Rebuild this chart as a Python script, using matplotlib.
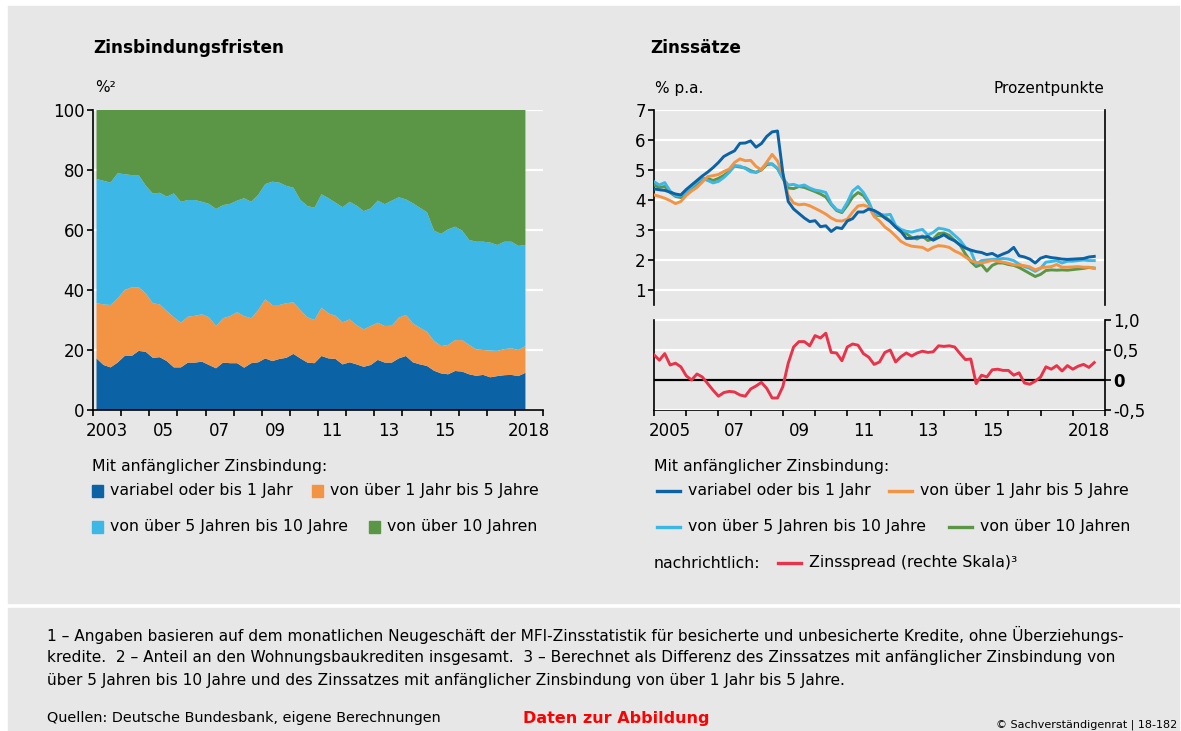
import numpy as np
import pandas as pd
import matplotlib
matplotlib.use("Agg")
import matplotlib.pyplot as plt
from matplotlib.patches import Rectangle
from matplotlib.lines import Line2D

plt.rcParams['font.family'] = ['DejaVu Sans']

W, H = 1181, 731
BG = '#e7e7e7'
C_VAR = '#0b62a4'
C_1_5 = '#f39445'
C_5_10 = '#3cb7e6'
C_10 = '#5b9647'
C_SPREAD = '#e8334a'

# Zinsbindungsfristen: Anteil an den Wohnungsbaukrediten, quartalsweise, in %
quarters = pd.period_range('2003Q1', '2018Q2', freq='Q')
share_var = [17.2, 15.0, 14.2, 15.8, 18.0, 18.0, 19.7, 19.4, 17.4, 17.6,
             16.3, 14.2, 14.2, 15.8, 15.8, 16.1, 15.0, 13.9, 15.8, 15.6,
             15.6, 14.1, 15.6, 15.9, 17.2, 16.3, 17.0, 17.4, 18.7, 17.2,
             15.8, 15.6, 18.0, 17.2, 17.0, 15.2, 15.9, 15.2, 14.4, 15.0,
             16.7, 15.8, 15.8, 17.2, 18.0, 15.9, 15.2, 14.7, 13.1, 12.2,
             11.9, 13.0, 12.8, 11.9, 11.4, 11.7, 10.9, 11.3, 11.6, 11.7,
             11.3, 12.4]
share_1_5 = [18.4, 20.2, 20.8, 21.4, 22.0, 22.9, 21.2, 19.5, 18.2, 17.6,
             16.7, 16.7, 14.9, 15.3, 15.6, 15.8, 15.9, 14.1, 14.8, 15.7,
             17.0, 17.2, 15.0, 17.4, 19.7, 18.7, 18.0, 18.2, 17.2, 16.1,
             15.1, 14.4, 16.1, 15.0, 14.4, 14.0, 14.3, 13.1, 12.5, 13.0,
             12.4, 12.2, 12.3, 13.6, 13.7, 13.0, 12.2, 11.4, 10.0, 9.1,
             9.8, 10.3, 10.5, 9.8, 8.8, 8.3, 8.9, 8.4, 8.7, 8.9,
             8.7, 8.9]
share_5_10 = [41.4, 41.2, 40.8, 41.7, 38.6, 37.4, 37.4, 35.9, 36.6, 37.2,
              38.1, 41.3, 40.3, 38.9, 38.6, 37.5, 37.8, 39.0, 37.7, 37.4,
              37.2, 39.3, 38.8, 38.4, 38.4, 41.1, 40.8, 39.1, 38.2, 36.7,
              37.1, 37.4, 37.8, 38.4, 37.7, 38.4, 39.2, 39.8, 39.4, 39.2,
              40.7, 40.6, 41.7, 40.1, 38.5, 40.0, 40.0, 39.8, 36.7, 37.4,
              38.5, 37.8, 36.5, 35.0, 35.9, 36.1, 36.0, 35.3, 35.8, 35.5,
              34.7, 33.7]
share_10 = [23.0, 23.6, 24.2, 21.1, 21.4, 21.7, 21.7, 25.2, 27.8, 27.6,
            28.9, 27.8, 30.6, 30.0, 30.0, 30.6, 31.3, 33.0, 31.7, 31.3,
            30.2, 29.4, 30.6, 28.3, 24.7, 23.9, 24.2, 25.3, 25.9, 30.0,
            32.0, 32.6, 28.1, 29.4, 30.9, 32.4, 30.6, 31.9, 33.7, 32.8,
            30.2, 31.4, 30.2, 29.1, 29.8, 31.1, 32.6, 34.1, 40.2, 41.3,
            39.8, 38.9, 40.2, 43.3, 43.9, 43.9, 44.2, 45.0, 43.9, 43.9,
            45.3, 45.0]
left_labels = {2003.5: '2003', 2005.5: '05', 2007.5: '07', 2009.5: '09',
               2011.5: '11', 2013.5: '13', 2015.5: '15', 2018.5: '2018'}

# Zinssätze: jeder zweite Monat, % p.a.; Zinsspread in Prozentpunkten
months = pd.period_range('2005-01', '2018-09', freq='M')[::2]
rate_var = [4.37, 4.34, 4.32, 4.26, 4.20, 4.17, 4.35, 4.50, 4.65, 4.80,
            4.93, 5.08, 5.25, 5.45, 5.55, 5.64, 5.89, 5.90, 5.97, 5.76,
            5.88, 6.12, 6.27, 6.30, 4.90, 3.95, 3.70, 3.55, 3.40, 3.28,
            3.31, 3.11, 3.14, 2.95, 3.08, 3.05, 3.30, 3.38, 3.60, 3.60,
            3.70, 3.65, 3.55, 3.40, 3.28, 3.10, 2.95, 2.72, 2.72, 2.77,
            2.76, 2.78, 2.66, 2.75, 2.84, 2.72, 2.64, 2.50, 2.40, 2.33,
            2.28, 2.25, 2.18, 2.22, 2.12, 2.20, 2.27, 2.42, 2.14, 2.10,
            2.03, 1.90, 2.06, 2.12, 2.08, 2.06, 2.03, 2.02, 2.03, 2.04,
            2.05, 2.10, 2.12]
rate_1_5 = [4.17, 4.12, 4.06, 3.98, 3.88, 3.95, 4.15, 4.30, 4.42, 4.60,
            4.78, 4.81, 4.85, 4.95, 5.03, 5.25, 5.37, 5.31, 5.32, 5.12,
            5.00, 5.26, 5.52, 5.30, 4.85, 4.15, 3.90, 3.84, 3.86, 3.81,
            3.72, 3.63, 3.53, 3.40, 3.31, 3.30, 3.36, 3.60, 3.80, 3.83,
            3.77, 3.45, 3.30, 3.10, 2.97, 2.80, 2.62, 2.52, 2.46, 2.44,
            2.42, 2.32, 2.42, 2.48, 2.46, 2.42, 2.30, 2.22, 2.10, 1.98,
            1.92, 1.90, 1.94, 1.99, 1.96, 1.93, 1.89, 1.84, 1.83, 1.81,
            1.77, 1.67, 1.74, 1.76, 1.78, 1.85, 1.76, 1.76, 1.77, 1.78,
            1.76, 1.76, 1.72]
rate_5_10 = [4.61, 4.50, 4.58, 4.30, 4.15, 4.14, 4.25, 4.42, 4.60, 4.72,
             4.65, 4.57, 4.62, 4.75, 4.92, 5.15, 5.13, 5.05, 4.94, 4.92,
             5.03, 5.22, 5.20, 5.05, 4.72, 4.50, 4.52, 4.46, 4.50, 4.40,
             4.33, 4.30, 4.25, 3.88, 3.68, 3.62, 3.92, 4.30, 4.45, 4.25,
             3.95, 3.50, 3.52, 3.50, 3.52, 3.15, 3.02, 2.96, 2.93, 2.98,
             3.02, 2.83, 2.92, 3.06, 3.03, 2.98, 2.82, 2.66, 2.42, 2.30,
             1.86, 1.98, 2.00, 2.02, 2.03, 2.05, 2.03, 1.98, 1.86, 1.78,
             1.72, 1.62, 1.72, 1.93, 1.95, 1.98, 1.90, 1.96, 1.96, 1.98,
             2.00, 1.98, 1.98]
rate_10 = [4.50, 4.42, 4.45, 4.25, 4.12, 4.08, 4.18, 4.38, 4.55, 4.70,
           4.72, 4.65, 4.72, 4.82, 4.95, 5.13, 5.10, 5.07, 4.98, 4.92,
           5.00, 5.18, 5.20, 5.05, 4.72, 4.40, 4.38, 4.45, 4.42, 4.35,
           4.28, 4.20, 4.10, 3.85, 3.65, 3.58, 3.82, 4.10, 4.25, 4.15,
           3.90, 3.50, 3.48, 3.45, 3.30, 3.10, 2.95, 2.88, 2.75, 2.70,
           2.80, 2.65, 2.70, 2.88, 2.90, 2.82, 2.65, 2.50, 2.20, 1.95,
           1.78, 1.85, 1.63, 1.82, 1.90, 1.90, 1.85, 1.82, 1.75, 1.65,
           1.55, 1.45, 1.52, 1.65, 1.67, 1.66, 1.67, 1.66, 1.68, 1.70,
           1.72, 1.75, 1.73]
spread = [0.42, 0.33, 0.44, 0.25, 0.28, 0.22, 0.07, 0.00, 0.10, 0.05,
          -0.06, -0.17, -0.27, -0.21, -0.19, -0.20, -0.25, -0.27, -0.15, -0.10,
          -0.04, -0.14, -0.30, -0.30, -0.11, 0.28, 0.55, 0.64, 0.64, 0.57,
          0.74, 0.70, 0.78, 0.46, 0.45, 0.32, 0.55, 0.60, 0.58, 0.44,
          0.38, 0.26, 0.30, 0.46, 0.50, 0.30, 0.39, 0.45, 0.40, 0.45,
          0.48, 0.46, 0.47, 0.57, 0.56, 0.57, 0.55, 0.44, 0.34, 0.35,
          -0.06, 0.08, 0.05, 0.17, 0.18, 0.16, 0.16, 0.08, 0.12, -0.05,
          -0.07, -0.02, 0.05, 0.22, 0.18, 0.24, 0.15, 0.24, 0.18, 0.23,
          0.26, 0.21, 0.29]
right_labels = {2005.5: '2005', 2007.5: '07', 2009.5: '09', 2011.5: '11',
                2013.5: '13', 2015.5: '15', 2018.5: '2018'}
spread_ticks = [-0.5, 0.0, 0.5, 1.0]
spread_tick_labels = ['-0,5', '0', '0,5', '1,0']

qx = quarters.year + (quarters.quarter - 1) / 4 + 0.125
mx = months.year + (months.month - 1) / 12


def fx(x):
    return x / W


def fy(y):
    return 1 - y / H


fig = plt.figure(figsize=(W / 100, H / 100), dpi=100)
fig.patch.set_facecolor('white')
fig.patches.append(Rectangle((fx(8), fy(603)), (1179 - 8) / W, (603 - 6) / H,
                             transform=fig.transFigure, color=BG, zorder=-10))
fig.patches.append(Rectangle((fx(8), 0), (1179 - 8) / W, (731 - 608) / H,
                             transform=fig.transFigure, color=BG, zorder=-10))

TICK_FS = 12


def year_axis(ax, start, end, labels):
    ax.set_xlim(start, end)
    ax.set_xticks(np.arange(start, end + 1))
    ax.set_xticks(list(labels.keys()), minor=True)
    ax.set_xticklabels(list(labels.values()), minor=True, fontsize=TICK_FS)
    ax.tick_params(axis='x', which='major', labelbottom=False, direction='out',
                   length=4, width=1.2, color='black')
    ax.tick_params(axis='x', which='minor', length=0, pad=9)


# ---------- left: stacked shares ----------
axL = fig.add_axes([fx(93), fy(410), 450 / W, 300 / H])
axL.set_facecolor('none')
axL.stackplot(qx, share_var, share_1_5, share_5_10, share_10,
              colors=[C_VAR, C_1_5, C_5_10, C_10], linewidth=0, zorder=2)
axL.set_ylim(0, 100)
axL.set_yticks(range(0, 101, 20))
axL.tick_params(axis='y', labelsize=TICK_FS, direction='out', length=4,
                width=1.2, pad=2)
axL.yaxis.grid(True, color='white', lw=1.6)
axL.set_axisbelow(True)
year_axis(axL, 2003, 2019, left_labels)
for s in ('top', 'right'):
    axL.spines[s].set_visible(False)
for s in ('left', 'bottom'):
    axL.spines[s].set_linewidth(1.2)
    axL.spines[s].set_zorder(3)

# ---------- right: interest rates ----------
axR = fig.add_axes([fx(654), fy(410), 451 / W, 300 / H])
axR.set_facecolor('none')
axR.set_ylim(-3, 7)
axR.set_yticks(range(1, 8))
axR.tick_params(axis='y', labelsize=TICK_FS, direction='out', length=4,
                width=1.2, pad=2)
axR.yaxis.grid(True, color='white', lw=1.6)
axR.set_axisbelow(True)
axR.plot(mx, rate_10, color=C_10, lw=2.1, zorder=3)
axR.plot(mx, rate_5_10, color=C_5_10, lw=2.1, zorder=3)
axR.plot(mx, rate_1_5, color=C_1_5, lw=2.1, zorder=3)
axR.plot(mx, rate_var, color=C_VAR, lw=2.1, zorder=3)
year_axis(axR, 2005, 2019, right_labels)
axR.spines['top'].set_visible(False)
axR.spines['left'].set_bounds(0.5, 7)
axR.spines['right'].set_bounds(0.5, 7)
for s in ('left', 'right', 'bottom'):
    axR.spines[s].set_linewidth(1.2)

axS = axR.twinx()
axS.set_ylim(-0.5, 4.5)
axS.set_yticks(spread_ticks)
axS.set_yticklabels(spread_tick_labels)
axS.tick_params(axis='y', labelsize=TICK_FS, direction='out', length=4,
                width=1.2, pad=2)
axS.get_yticklabels()[1].set_fontweight('bold')
axS.yaxis.grid(True, color='white', lw=1.6)
axS.set_axisbelow(True)
axS.axhline(0, color='black', lw=1.6, zorder=2)
axS.plot(mx, spread, color=C_SPREAD, lw=2.1, zorder=3)
axS.spines['top'].set_visible(False)
axS.spines['bottom'].set_visible(False)
axS.spines['left'].set_bounds(-0.5, 1.0)
axS.spines['right'].set_bounds(-0.5, 1.0)
for s in ('left', 'right'):
    axS.spines[s].set_linewidth(1.2)

# ---------- titles and units ----------
fig.text(fx(93), fy(48), 'Zinsbindungsfristen', fontsize=12.2,
         fontweight='bold', va='center')
fig.text(fx(650), fy(48), 'Zinssätze', fontsize=12.2, fontweight='bold',
         va='center')
fig.text(fx(95), fy(88), '%²', fontsize=11, va='center')
fig.text(fx(655), fy(88), '% p.a.', fontsize=11, va='center')
fig.text(fx(1104), fy(88), 'Prozentpunkte', fontsize=11, va='center',
         ha='right')

# ---------- legends ----------
LEG_FS = 11.3
fig.text(fx(92), fy(467), 'Mit anfänglicher Zinsbindung:', fontsize=LEG_FS,
         va='center')
left_legend = [(92, 491, C_VAR, 'variabel oder bis 1 Jahr'),
               (312, 491, C_1_5, 'von über 1 Jahr bis 5 Jahre'),
               (92, 527, C_5_10, 'von über 5 Jahren bis 10 Jahre'),
               (369, 527, C_10, 'von über 10 Jahren')]
for x, y, c, t in left_legend:
    fig.patches.append(Rectangle((fx(x), fy(y + 6)), 11 / W, 12 / H,
                                 transform=fig.transFigure, color=c))
    fig.text(fx(x + 18), fy(y), t, fontsize=LEG_FS, va='center')

fig.text(fx(654), fy(467), 'Mit anfänglicher Zinsbindung:', fontsize=LEG_FS,
         va='center')
right_legend = [(657, 491, C_VAR, 'variabel oder bis 1 Jahr'),
                (889, 491, C_1_5, 'von über 1 Jahr bis 5 Jahre'),
                (657, 527, C_5_10, 'von über 5 Jahren bis 10 Jahre'),
                (949, 527, C_10, 'von über 10 Jahren'),
                (778, 563, C_SPREAD, 'Zinsspread (rechte Skala)³')]
for x, y, c, t in right_legend:
    fig.lines.append(Line2D([fx(x), fx(x + 23)], [fy(y), fy(y)],
                            transform=fig.transFigure, color=c, lw=2.4))
    fig.text(fx(x + 31), fy(y), t, fontsize=LEG_FS, va='center')
fig.text(fx(654), fy(563), 'nachrichtlich:', fontsize=LEG_FS, va='center')

# ---------- notes ----------
NOTE_FS = 11.1
notes = ['1 – Angaben basieren auf dem monatlichen Neugeschäft der MFI-Zinsstatistik '
         'für besicherte und unbesicherte Kredite, ohne Überziehungs-',
         'kredite.  2 – Anteil an den Wohnungsbaukrediten insgesamt.  3 – Berechnet '
         'als Differenz des Zinssatzes mit anfänglicher Zinsbindung von',
         'über 5 Jahren bis 10 Jahre und des Zinssatzes mit anfänglicher '
         'Zinsbindung von über 1 Jahr bis 5 Jahre.']
for i, line in enumerate(notes):
    fig.text(fx(47), fy(635 + 22.5 * i), line, fontsize=NOTE_FS, va='center')
fig.text(fx(47), fy(718), 'Quellen: Deutsche Bundesbank, eigene Berechnungen',
         fontsize=10.4, va='center')
fig.text(fx(523), fy(718), 'Daten zur Abbildung', fontsize=11.5,
         fontweight='bold', color='#ff0000', va='center')
fig.text(fx(1177), fy(725), '© Sachverständigenrat | 18-182', fontsize=8,
         va='center', ha='right')

fig.savefig('out.png', dpi=100, facecolor=fig.get_facecolor())
